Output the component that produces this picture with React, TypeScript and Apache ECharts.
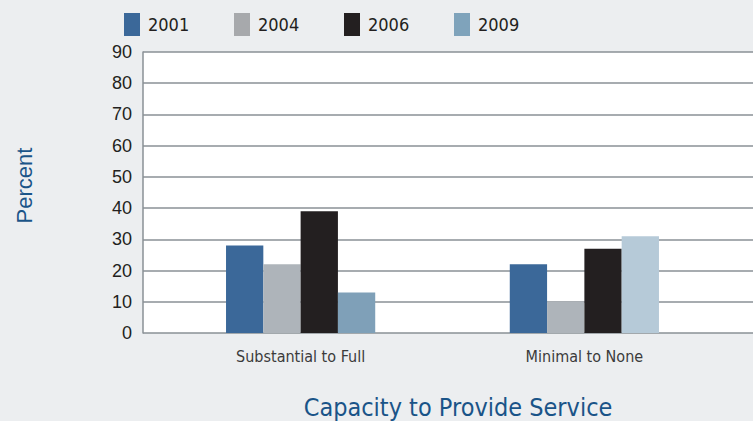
import React, { useEffect, useRef } from "react";
import * as echarts from "echarts";

const categories = ["Substantial to Full", "Minimal to None"];
const years = ["2001", "2004", "2006", "2009"];
const values2001 = [28, 22];
const values2004 = [22, 10];
const values2006 = [39, 27];
const values2009 = [13, 31];
const barColors = ["#3b6899", "#aeb4ba", "#231f20", "#7fa0b8"];
const legendColors = ["#3b6899", "#a7a9ac", "#231f20", "#7fa3bb"];
const highlight2009Second = "#b6cad8";
const yTicks = { min: 0, max: 90, interval: 10 };

export default function App() {
  const ref = useRef<HTMLDivElement>(null);
  useEffect(() => {
    if (!ref.current) return;
    const chart = echarts.init(ref.current, undefined, { renderer: "svg" });
    const seriesValues = [values2001, values2004, values2006, values2009];
    const legendLefts = [124, 234, 344, 454];
    const narrow = "'Liberation Sans Narrow', 'DejaVu Sans Condensed', sans-serif";
    chart.setOption({
      animation: false,
      backgroundColor: "#eceef0",
      legend: years.map((y, i) => ({
        data: [{ name: y, itemStyle: { color: legendColors[i] } }],
        left: legendLefts[i],
        top: 13,
        padding: 0,
        itemWidth: 16,
        itemHeight: 23,
        icon: "rect",
        selectedMode: false,
        textStyle: {
          fontFamily: narrow,
          fontSize: 18,
          color: "#231f20",
          padding: [0, 0, 0, 3],
        },
      })),
      grid: [
        { left: 143, right: 0, top: 52, bottom: 88, show: true, backgroundColor: "#ffffff", borderWidth: 0 },
        { left: 158.75, right: 26.75, top: 52, bottom: 88 },
      ],
      xAxis: [
        { type: "value", gridIndex: 0, show: false },
        {
          type: "category",
          gridIndex: 1,
          data: categories,
          axisLine: { show: false },
          axisTick: { show: false },
          axisLabel: {
            margin: 15,
            fontFamily: narrow,
            fontSize: 16,
            color: "#3b3b3b",
          },
        },
      ],
      yAxis: [
        {
          type: "value",
          gridIndex: 0,
          min: yTicks.min,
          max: yTicks.max,
          interval: yTicks.interval,
          name: "Percent",
          nameLocation: "middle",
          nameGap: 108,
          nameTextStyle: {
            fontFamily: "'Liberation Sans', sans-serif",
            fontSize: 22,
            color: "#1a5488",
            padding: [0, 0, 0, 14],
          },
          axisLine: { show: true, lineStyle: { color: "#8a9096", width: 1.5 } },
          axisTick: { show: false },
          axisLabel: {
            margin: 11,
            fontFamily: "'Liberation Sans', sans-serif",
            fontSize: 18,
            color: "#231f20",
          },
          splitLine: { show: true, lineStyle: { color: "#8a9096", width: 1.5 } },
        },
        {
          type: "value",
          gridIndex: 1,
          min: yTicks.min,
          max: yTicks.max,
          interval: yTicks.interval,
          show: false,
          splitLine: { show: false },
        },
      ],
      graphic: [
        {
          type: "text",
          x: 458,
          y: 407,
          style: {
            text: "Capacity to Provide Service",
            fontFamily: narrow,
            fontSize: 25,
            fill: "#1a5488",
            textAlign: "center",
            textVerticalAlign: "middle",
          },
        },
      ],
      series: years.map((y, i) => ({
        name: y,
        type: "bar",
        xAxisIndex: 1,
        yAxisIndex: 1,
        barWidth: 37.3,
        barGap: "0%",
        itemStyle: { color: barColors[i] },
        data: seriesValues[i].map((v, j) =>
          i === 3 && j === 1 ? { value: v, itemStyle: { color: highlight2009Second } } : v
        ),
      })),
    });
    return () => chart.dispose();
  }, []);
  return (
    <div
      ref={ref}
      style={{ position: "fixed", left: 0, top: 0, width: 753, height: 421 }}
    />
  );
}
